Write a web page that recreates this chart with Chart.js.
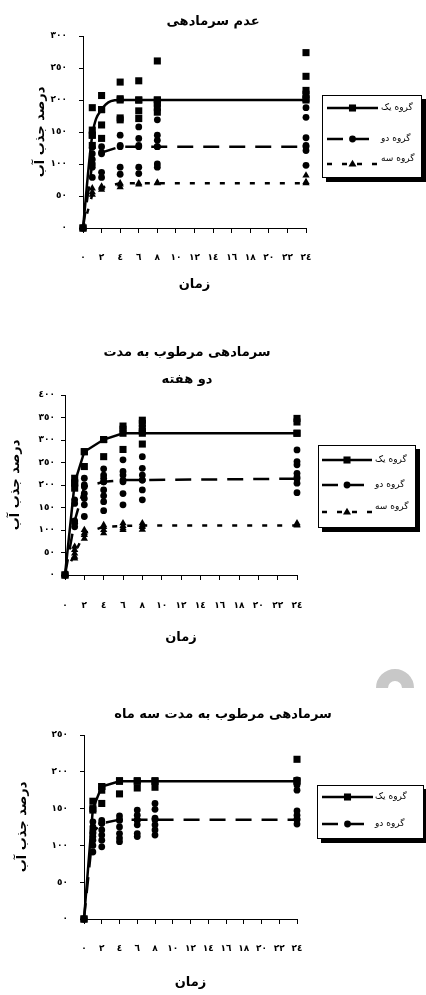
<!DOCTYPE html>
<html lang="fa">
<head>
<meta charset="UTF-8">
<title>درصد جذب آب</title>
<style>
  html, body { margin: 0; padding: 0; background: #fff; overflow: hidden; }
  body { width: 426px; height: 995px; position: relative; }
  canvas { position: absolute; left: 0; }
  #c1 { top: 0; }
  #c2 { top: 300px; }
  #c3 { top: 660px; }
  .dome { position: absolute; left: 376px; top: 669px; width: 38px; height: 19px; overflow: hidden; }
  .dome div { width: 38px; height: 38px; box-sizing: border-box; border: 12px solid #c8c8c8; border-radius: 50%; }
</style>
<script src="https://cdn.jsdelivr.net/npm/chart.js"></script>
</head>
<body>
<canvas id="c1" width="426" height="300"></canvas>
<canvas id="c2" width="426" height="360"></canvas>
<div class="dome"><div></div></div>
<canvas id="c3" width="446" height="335"></canvas>

<script>
// زمان (ساعت)
const times = [0, 1, 2, 4, 6, 8, 24];
const arDigits = '٠١٢٣٤٥٦٧٨٩';
const groupNames = ['گروه یک', 'گروه دو', 'گروه سه'];
const xTitle = 'زمان';
const yTitle = 'درصد جذب آب';

// عدم سرمادهی
const title1 = ['عدم سرمادهی'];
const c1Mean1 = [0, 145, 185, 200, 200, 200, 200];
const c1Mean2 = [0, 100, 118, 127, 127, 127, 127];
const c1Mean3 = [0, 52, 63, 70, 70, 70, 70];
const c1Rep1 = [[0], [188, 153, 145, 129], [207, 185, 161, 140], [228, 202, 172, 169], [230, 200, 183, 171], [261, 200, 195, 188, 181], [274, 237, 215, 209, 202]];
const c1Rep2 = [[0], [126, 116, 107, 95, 79], [127, 116, 87, 79], [145, 129, 95, 84], [158, 140, 129, 95, 85], [169, 145, 137, 127, 100, 95], [188, 173, 141, 129, 121, 98]];
const c1Rep3 = [[0], [62, 56], [65, 60], [68, 64], [68], [71], [82, 72]];

// سرمادهی مرطوب به مدت دو هفته
const title2 = ['سرمادهی مرطوب به مدت', 'دو هفته'];
const c2Mean1 = [0, 205, 274, 301, 315, 315, 315];
const c2Mean2 = [0, 120, 196, 207, 211, 211, 214];
const c2Mean3 = [0, 48, 93, 107, 109, 110, 110];
const c2Rep1 = [[0], [215, 204, 193], [274, 241], [301, 263], [331, 324, 279], [344, 337, 326, 319, 291], [348, 340, 315]];
const c2Rep2 = [[0], [167, 159, 115, 107], [215, 200, 181, 170, 156, 130], [236, 222, 215, 207, 189, 176, 163, 143], [256, 230, 222, 207, 181, 156], [263, 237, 222, 211, 189, 167], [278, 252, 245, 226, 218, 204, 183]];
const c2Rep3 = [[0], [63, 56, 41, 37], [100, 89, 81], [111, 100, 93], [115, 104, 100], [115, 107, 101], [115, 112]];

// سرمادهی مرطوب به مدت سه ماه
const title3 = ['سرمادهی مرطوب به مدت سه ماه'];
const c3Mean1 = [0, 150, 180, 187, 187, 187, 187];
const c3Mean2 = [0, 118, 130, 135, 135, 135, 135];
const c3Rep1 = [[0], [160, 148], [180, 175, 157], [188, 170], [188, 178], [188, 179], [217, 188]];
const c3Rep2 = [[0], [132, 125, 121, 116, 112, 107, 100, 91], [134, 130, 121, 114, 107, 98], [140, 134, 125, 116, 110, 105], [148, 141, 134, 128, 116, 112], [157, 149, 137, 128, 121, 114], [189, 182, 175, 147, 141, 136, 129]];

Chart.defaults.font.family = "'DejaVu Sans', sans-serif";
Chart.defaults.color = '#000';

function toAr(n) {
  return String(n).replace(/\d/g, d => arDigits[d]);
}
function meanPoints(arr) {
  return times.map((t, i) => ({ x: t, y: arr[i] }));
}
function repPoints(reps) {
  return reps.flatMap((vals, i) => vals.map(v => ({ x: times[i], y: v })));
}

// each group: line style + marker
const styles = [
  { pointStyle: 'rect', pointRadius: 5, borderDash: [] },
  { pointStyle: 'circle', pointRadius: 3.4, borderDash: [16, 10] },
  { pointStyle: 'triangle', pointRadius: 4.2, borderDash: [5, 10] }
];

function drawMarker(ctx, style, x, y, r) {
  ctx.beginPath();
  if (style === 'rect') {
    const s = r * Math.SQRT1_2;
    ctx.rect(x - s, y - s, 2 * s, 2 * s);
  } else if (style === 'circle') {
    ctx.arc(x, y, r, 0, Math.PI * 2);
  } else {
    ctx.moveTo(x, y - r);
    ctx.lineTo(x + r * 0.95, y + r * 0.6);
    ctx.lineTo(x - r * 0.95, y + r * 0.6);
    ctx.closePath();
  }
  ctx.fill();
}

// boxed legend with drop shadow
const legendBox = {
  id: 'legendBox',
  afterDraw(chart, args, o) {
    const ctx = chart.ctx;
    ctx.save();
    ctx.fillStyle = '#000';
    ctx.fillRect(o.x + 4, o.y + 4, o.w, o.h);
    ctx.fillStyle = '#fff';
    ctx.fillRect(o.x, o.y, o.w, o.h);
    ctx.strokeStyle = '#000';
    ctx.lineWidth = 1;
    ctx.strokeRect(o.x + 0.5, o.y + 0.5, o.w - 1, o.h - 1);
    o.rows.forEach((ry, i) => {
      const st = styles[i];
      ctx.strokeStyle = '#000';
      ctx.fillStyle = '#000';
      ctx.lineWidth = 2.5;
      ctx.setLineDash(st.borderDash);
      ctx.beginPath();
      ctx.moveTo(o.lineX0, ry);
      ctx.lineTo(o.lineX1, ry);
      ctx.stroke();
      ctx.setLineDash([]);
      drawMarker(ctx, st.pointStyle, (o.lineX0 + o.lineX1) / 2, ry, st.pointRadius);
      ctx.font = "9px 'DejaVu Sans'";
      ctx.textAlign = 'left';
      ctx.textBaseline = 'middle';
      ctx.fillText(groupNames[i], o.textX, ry + (o.textDy ? o.textDy[i] : 0));
    });
    ctx.restore();
  }
};

function makeChart(id, g, means, reps) {
  const datasets = [];
  means.forEach((m, i) => {
    const st = styles[i];
    datasets.push({
      label: groupNames[i],
      data: meanPoints(m),
      showLine: true,
      borderColor: '#000',
      backgroundColor: '#000',
      borderWidth: 2.5,
      borderDash: st.borderDash,
      tension: (g.smooth && i === 0) ? 0.4 : 0,
      cubicInterpolationMode: (g.smooth && i === 0) ? 'monotone' : 'default',
      pointStyle: st.pointStyle,
      pointRadius: st.pointRadius,
      pointBorderWidth: 0,
      clip: false
    });
  });
  reps.forEach((r, i) => {
    const st = styles[i];
    datasets.push({
      label: groupNames[i] + ' ',
      data: repPoints(r),
      showLine: false,
      backgroundColor: '#000',
      borderColor: '#000',
      pointStyle: st.pointStyle,
      pointRadius: st.pointRadius,
      pointBorderWidth: 0,
      clip: false
    });
  });

  return new Chart(document.getElementById(id), {
    type: 'scatter',
    data: { datasets },
    plugins: [legendBox],
    options: {
      responsive: false,
      animation: false,
      layout: { padding: { left: 0, top: 0, bottom: 0, right: g.padRight } },
      plugins: {
        legend: { display: false },
        tooltip: { enabled: false },
        title: {
          display: true,
          text: g.title,
          color: '#000',
          font: { size: 13, weight: 'bold', lineHeight: g.titleLH },
          padding: { top: g.titleTop, bottom: g.titleBottom }
        },
        legendBox: g.legend
      },
      scales: {
        x: {
          type: 'linear',
          min: 0,
          max: 24,
          afterFit: s => { s.height = g.xH; },
          border: { display: true, color: '#000', width: 1 },
          grid: { drawOnChartArea: false, drawTicks: true, tickLength: 5, color: '#000' },
          ticks: {
            stepSize: 2,
            padding: g.xTickPad,
            maxRotation: 0,
            autoSkip: false,
            font: { size: 9, weight: 'bold' },
            callback: v => toAr(v)
          },
          title: {
            display: true,
            text: xTitle,
            font: { size: 13, weight: 'bold' },
            padding: { top: 0, bottom: g.xTitlePad }
          }
        },
        y: {
          min: 0,
          max: g.yMax,
          afterFit: s => { s.width = g.yW; },
          border: { display: true, color: '#000', width: 1 },
          grid: { drawOnChartArea: false, drawTicks: true, tickLength: 4, color: '#000' },
          ticks: {
            stepSize: 50,
            padding: g.yTickPad,
            font: { size: 9, weight: 'bold' },
            callback: v => toAr(v)
          },
          title: {
            display: true,
            text: yTitle,
            font: { size: 13, weight: 'bold' },
            padding: { top: g.yTitlePad, bottom: 0 }
          }
        },
        yR: {
          position: 'right',
          display: true,
          afterFit: s => { s.width = g.rightW; },
          border: { display: false },
          grid: { display: false },
          ticks: { display: false }
        }
      }
    }
  });
}

makeChart('c1', {
  title: title1, titleLH: 1.2, titleTop: 14.2, titleBottom: 6.2,
  padRight: 0, rightW: 120, xH: 72, yW: 83, yMax: 300,
  xTickPad: 19, xTitlePad: 8, yTickPad: 12, yTitlePad: 33, smooth: true,
  legend: { x: 322, y: 95, w: 100, h: 83, rows: [108, 139, 164], lineX0: 327, lineX1: 378, textX: 381, textDy: [0, 0, -5] }
}, [c1Mean1, c1Mean2, c1Mean3], [c1Rep1, c1Rep2, c1Rep3]);

makeChart('c2', {
  title: title2, titleLH: 2.077, titleTop: 39.5, titleBottom: 1.5,
  padRight: 52, rightW: 77, xH: 85, yW: 65, yMax: 400,
  xTickPad: 20, xTitlePad: 14.8, yTickPad: 6, yTitlePad: 7.8, smooth: false,
  legend: { x: 318, y: 145, w: 98, h: 83, rows: [160, 185, 212], lineX0: 322, lineX1: 372, textX: 375, textDy: [0, 0, -5] }
}, [c2Mean1, c2Mean2, c2Mean3], [c2Rep1, c2Rep2, c2Rep3]);

makeChart('c3', {
  title: title3, titleLH: 1.2, titleTop: 47.2, titleBottom: 12.2,
  padRight: 0, rightW: 149, xH: 76, yW: 84, yMax: 250,
  xTickPad: 19, xTitlePad: 4.8, yTickPad: 12, yTitlePad: 14.8, smooth: false,
  legend: { x: 317, y: 125, w: 107, h: 54, rows: [137, 164], lineX0: 322, lineX1: 373, textX: 375, textDy: [0, 0] }
}, [c3Mean1, c3Mean2], [c3Rep1, c3Rep2]);
</script>
</body>
</html>
